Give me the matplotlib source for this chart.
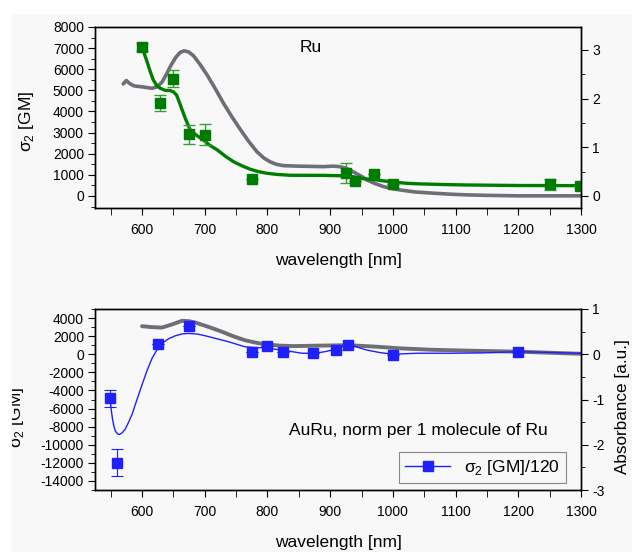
import matplotlib.pyplot as plt
from matplotlib.patches import Rectangle
from matplotlib.ticker import MultipleLocator
from matplotlib.transforms import Bbox

plt.rcParams['font.family'] = ['Liberation Sans', 'DejaVu Sans']
plt.rcParams['mathtext.fontset'] = 'custom'
plt.rcParams['mathtext.rm'] = 'Liberation Sans'
plt.rcParams['axes.unicode_minus'] = False

# ---- top panel: Ru ----
ru_wl = [600, 629, 649, 675, 700, 775, 925, 940, 970, 1000, 1250, 1298]
ru_s2 = [7050, 4400, 5550, 2930, 2890, 805, 1075, 710, 1040, 555, 555, 490]
ru_err = [200, 400, 400, 450, 500, 0, 480, 0, 0, 0, 250, 0]

ru_fit_wl = [600, 604, 608, 613, 618, 623, 629, 637, 645, 650, 655, 660, 664,
             670, 677, 687, 698, 708, 720, 733, 746, 760, 773, 786, 799, 815,
             836, 889, 927, 938, 948, 961, 974, 985, 996, 1009, 1022, 1040,
             1064, 1090, 1117, 1200, 1300]
ru_fit_s2 = [7070, 6700, 6360, 5900, 5490, 5250, 5100, 5000, 4990, 4930, 4780,
             4400, 4070, 3600, 3120, 2870, 2650, 2400, 2180, 1880, 1620, 1420,
             1260, 1150, 1075, 1020, 980, 975, 950, 900, 838, 795, 757, 715,
             677, 635, 600, 575, 554, 535, 520, 495, 488]

ru_abs_wl = [570, 575, 580, 587, 600, 616, 624, 632, 639, 646, 654, 661, 667,
             674, 682, 692, 704, 716, 730, 743, 757, 770, 783, 794, 804, 815,
             826, 850, 889, 905, 915, 925, 933, 940, 950, 958, 970, 985, 1000,
             1012, 1035, 1064, 1090, 1117, 1150, 1200, 1300]
ru_abs = [2.30, 2.37, 2.31, 2.26, 2.24, 2.21, 2.24, 2.34, 2.50, 2.68, 2.85,
          2.95, 2.98, 2.96, 2.88, 2.71, 2.48, 2.22, 1.90, 1.63, 1.36, 1.12,
          0.91, 0.78, 0.70, 0.645, 0.62, 0.61, 0.60, 0.61, 0.60, 0.57, 0.52,
          0.47, 0.40, 0.33, 0.26, 0.19, 0.145, 0.12, 0.08, 0.055, 0.035, 0.02,
          0.01, 0.0, 0.0]

# ---- bottom panel: AuRu ----
auru_wl = [549.5, 559.5, 625, 675, 775, 799, 824, 873, 910, 929, 1000, 1200]
auru_s2 = [-4850, -12000, 1100, 3100, 220, 910, 290, 110, 470, 1020, -50, 290]
auru_err = [950, 1500, 0, 0, 0, 0, 0, 0, 0, 0, 0, 0]

auru_fit_wl = [549.5, 551, 553, 555, 557.5, 561, 564, 568, 573, 578, 584, 592,
               600, 608, 616, 624, 632, 642, 653, 664, 674, 688, 701, 720, 738,
               751, 764, 778, 791, 807, 823, 840, 855, 876, 893, 908, 920, 929,
               940, 958, 978, 1000, 1020, 1038, 1092, 1145, 1200, 1250, 1300]
auru_fit_s2 = [-5200, -6200, -7200, -7900, -8500, -8800, -8860, -8700, -8300,
               -7600, -6660, -5000, -3370, -1800, -440, 500, 1200, 1700, 2040,
               2250, 2300, 2230, 2040, 1700, 1380, 1100, 830, 750, 720, 600,
               470, 280, 110, 110, 300, 550, 850, 1000, 850, 470, 200, 0, 60,
               110, 110, 150, 285, 200, 100]

auru_abs_wl = [600, 615, 632, 648, 664, 675, 685, 705, 727, 745, 764, 780, 796,
               820, 844, 880, 929, 970, 1012, 1060, 1117, 1200, 1300]
auru_abs = [0.62, 0.60, 0.59, 0.66, 0.74, 0.73, 0.70, 0.61, 0.50, 0.40, 0.31,
            0.26, 0.22, 0.19, 0.18, 0.19, 0.20, 0.17, 0.13, 0.10, 0.08, 0.057,
            0.01]

bg = '#f8f8f8'
green = '#007d00'
gray = '#6e6e76'
blue = '#2020ff'

W, H = 632.0, 552.0
fig = plt.figure(figsize=(6.32, 5.52), dpi=100)
fig.patch.set_facecolor('white')
fig.patches.append(Rectangle((11 / W, 0), 1, 1 - 14 / H, transform=fig.transFigure,
                             facecolor=bg, edgecolor='none', zorder=-10))


def make_axes(top, bottom):
    return fig.add_axes([95 / W, 1 - bottom / H, (581 - 95) / W, (bottom - top) / H])


def style(ax, twin):
    twin.set_facecolor(bg)
    ax.set_zorder(twin.get_zorder() + 1)
    ax.patch.set_visible(False)
    ax.set_xlim(525, 1300)
    ax.xaxis.set_major_locator(MultipleLocator(100))
    ax.xaxis.set_minor_locator(MultipleLocator(50))
    ax.set_xticks([600, 700, 800, 900, 1000, 1100, 1200, 1300])
    ax.tick_params(axis='both', which='major', direction='out', length=5,
                   labelsize=10, pad=3)
    ax.tick_params(axis='both', which='minor', direction='out', length=3)
    ax.tick_params(axis='x', which='both', length=5, pad=6)
    twin.tick_params(axis='y', which='major', direction='out', length=5,
                     labelsize=10, pad=3)
    twin.tick_params(axis='y', which='minor', direction='out', length=3)
    ax.set_xlabel('wavelength [nm]', fontsize=12.5, labelpad=11)


# top
ax1 = make_axes(27, 208)
ax1r = ax1.twinx()
style(ax1, ax1r)
ax1r.plot(ru_abs_wl, ru_abs, color=gray, lw=2.6, solid_capstyle='round')
ax1.plot(ru_fit_wl, ru_fit_s2, color=green, lw=2.4)
ax1.errorbar(ru_wl, ru_s2, yerr=ru_err, fmt='s', color=green, ms=7,
             ecolor='#3c9c3c', elinewidth=1, capsize=4, capthick=1)
ax1.set_ylim(-570, 8000)
ax1.yaxis.set_major_locator(MultipleLocator(1000))
ax1.yaxis.set_minor_locator(MultipleLocator(500))
ax1r.set_ylim(-0.25, 3.47)
ax1r.yaxis.set_major_locator(MultipleLocator(1))
ax1r.yaxis.set_minor_locator(MultipleLocator(0.5))
ax1.set_ylabel('σ$_2$ [GM]', fontsize=12.5)
ax1.yaxis.set_label_coords(-0.121, 0.48)
ax1.text(0.422, 0.884, 'Ru', transform=ax1.transAxes, fontsize=12.5, va='center')

# bottom
ax2 = make_axes(309, 490)
ax2r = ax2.twinx()
style(ax2, ax2r)
ax2r.plot(auru_abs_wl, auru_abs, color=gray, lw=2.8, solid_capstyle='round')
ax2.plot(auru_fit_wl, auru_fit_s2, color=blue, lw=1)
ax2.errorbar(auru_wl, auru_s2, yerr=auru_err, fmt='s', color=blue, ms=6.5,
             ecolor=blue, elinewidth=0.8, capsize=4, capthick=0.8)
ax2.set_ylim(-15000, 5000)
ax2.yaxis.set_major_locator(MultipleLocator(2000))
ax2.yaxis.set_minor_locator(MultipleLocator(1000))
ax2r.set_ylim(-3, 1)
ax2r.yaxis.set_major_locator(MultipleLocator(1))
ax2r.yaxis.set_minor_locator(MultipleLocator(0.5))
ax2r.set_ylabel('Absorbance [a.u.]', fontsize=12.3)
ax2r.yaxis.set_label_coords(1.07, 0.461)
ax2.text(0.399, 0.326, 'AuRu, norm per 1 molecule of Ru', transform=ax2.transAxes,
         fontsize=12.5, va='center')

# left label of the lower panel is cut off in the original
ax2.set_ylabel('σ$_2$ [GM]', fontsize=12.5)
ax2.yaxis.set_label_coords(-0.142, 0.40)
ax2.yaxis.label.set_clip_box(Bbox.from_extents(11.5, 0, W, H))
ax2.yaxis.label.set_clip_on(True)

handle, = ax2.plot([], [], color=blue, lw=1, marker='s', ms=6.5)
leg = ax2.legend([handle], ['σ$_2$ [GM]/120'], loc='lower right',
                 bbox_to_anchor=(0.969, 0.039), borderaxespad=0, fontsize=12.5,
                 handlelength=2.6, fancybox=False, framealpha=1,
                 edgecolor='#888888', facecolor=bg, borderpad=0.35)
leg.get_frame().set_linewidth(0.8)

for a in (ax1, ax1r, ax2, ax2r):
    for s in a.spines.values():
        s.set_linewidth(1)

fig.savefig('out.png', dpi=100, facecolor=fig.get_facecolor())
